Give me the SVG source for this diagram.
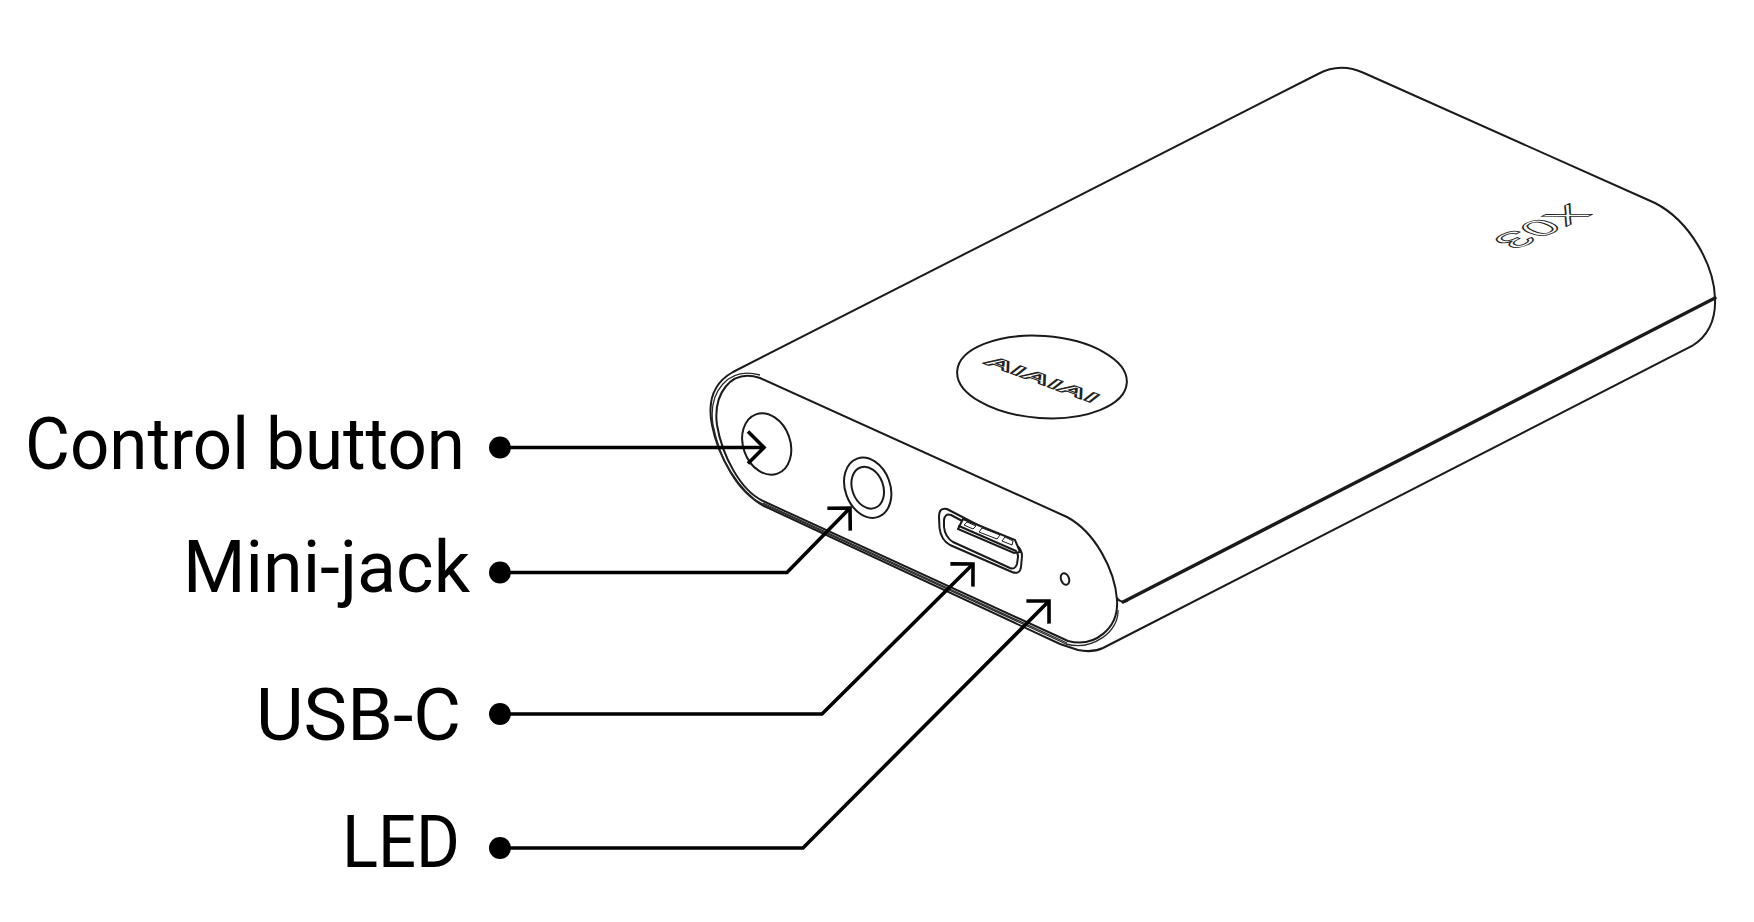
<svg xmlns="http://www.w3.org/2000/svg" width="1754" height="922" viewBox="0 0 1754 922">
<style>
.l{fill:none;stroke:#1a1a1a;stroke-width:2;stroke-linejoin:round;stroke-linecap:round}
.t{fill:none;stroke:#2a2a2a;stroke-width:1.3}
.w{fill:#fff;stroke:#1a1a1a;stroke-width:2}
.c{fill:none;stroke:#000;stroke-width:3.6;marker-start:url(#dot);marker-end:url(#head)}
.lab{font-family:Roboto,"Liberation Sans",sans-serif;font-size:72px;fill:#000}
.mark{font-family:"Liberation Sans",Arial,sans-serif;font-weight:700;fill:#fff;stroke:#222;stroke-linejoin:round}
</style>
<defs>
<marker id="dot" markerUnits="userSpaceOnUse" markerWidth="24" markerHeight="24" refX="12" refY="12" orient="auto"><circle cx="12" cy="12" r="11" fill="#000"/></marker>
<marker id="head" markerUnits="userSpaceOnUse" markerWidth="30" markerHeight="50" refX="24" refY="25" orient="auto"><path d="M8,9 L24,25 L8,41" fill="none" stroke="#000" stroke-width="3.6"/></marker>
</defs>
<rect width="1754" height="922" fill="#fff"/>
<g id="device">
<path class="w" d="M733,372 L1318,74 Q1340,62 1364,73 L1655,203 C1690,221 1714,265 1715,298 C1716,320 1708,336 1692,346 L1103,648 Q1092,653 1078,650 L1060,644 L764,506 C738,492 718,456 712,425 C707,400 715,382 733,372 Z"/>
<path class="l" d="M1123,602 L1715,298" style="stroke-width:3.4"/>
<path class="l" d="M1117,598 Q1120,603 1127,601"/>
<path class="l" d="M760,378 L1067,517 C1095,532 1115,570 1117,600 C1119,628 1095,648 1068,641 L763,501 C740,490 722,455 717,425 C713,395 730,368 760,378 Z"/>
<path class="t" d="M760,375 C728,366 708,392 713,425 C720,460 738,494 763,504 L1066,644 C1092,651 1119,632 1118,610"/>
<path class="t" d="M763,503 L1067,643"/>
</g>
<g id="logo">
<ellipse class="l" cx="1042" cy="377" rx="85" ry="41" transform="rotate(4 1042 377)"/>
<text class="mark" font-size="20" stroke-width="1.3" text-anchor="middle" transform="matrix(1.83,.67,-.7,.55,1037,383)">AIAIAI</text>
</g>
<g id="model">
<text class="mark" font-size="38" stroke-width="1.1" text-anchor="middle" style="font-weight:400" transform="matrix(-1.18,.55,-.91,-.40,1530.5,221.5)">X03</text>
</g>
<g id="control-button"><ellipse class="l" cx="766.7" cy="444" rx="23.5" ry="31.5" transform="rotate(-20 766.7 444)"/></g>
<g id="mini-jack">
<ellipse class="l" cx="867.7" cy="487.7" rx="22.5" ry="31" transform="rotate(-20 867.7 487.7)"/>
<ellipse class="l" cx="867.7" cy="487.7" rx="15.5" ry="21.5" transform="rotate(-20 867.7 487.7)"/>
</g>
<g id="usb-c">
<path class="l" d="M947,509 L1016,545 Q1022,549 1022,556 L1021,567 Q1020,575 1012,572 L950,545 Q941,540 939.5,528 L939,517 Q939,507 947,509 Z"/>
<path class="l" d="M951,515 L1013,548 Q1018,551 1018,557 L1017,564 Q1015,570 1010,568 L953,542 Q945,537 944,527 L944,520 Q945,513 951,515 Z"/>
<path class="w" d="M963,519 L1015,540 L1020,552 L1014,553 L958,529 Z"/>
<path class="l" d="M959,526 L1016,551"/>
<path d="M967,522 L976,526 L973,529 L964,525 Z M982,528 L1000,535 L997,539 L979,532 Z M1005,537 L1013,541 L1012,545 L1002,541 Z" fill="#fff" stroke="#1a1a1a" stroke-width="1"/>
</g>
<g id="led"><ellipse class="l" cx="1065" cy="579" rx="4" ry="6" transform="rotate(-20 1065 579)"/></g>
<g id="connectors">
<path class="c" d="M500,447.5 L764,447.5"/>
<path class="c" d="M500,572.5 L787,572.5 L850,508"/>
<path class="c" d="M500,714 L822,714 L973,564"/>
<path class="c" d="M500,848 L803,848 L1049,601"/>
</g>
<g id="label-control-button"><text class="lab" x="25" y="469" textLength="440" lengthAdjust="spacingAndGlyphs">Control button</text></g>
<g id="label-mini-jack"><text class="lab" x="183" y="592" textLength="287" lengthAdjust="spacingAndGlyphs">Mini-jack</text></g>
<g id="label-usb-c"><text class="lab" x="256" y="740" textLength="205" lengthAdjust="spacingAndGlyphs">USB-C</text></g>
<g id="label-led"><text class="lab" x="342" y="867" textLength="118" lengthAdjust="spacingAndGlyphs">LED</text></g>
</svg>
